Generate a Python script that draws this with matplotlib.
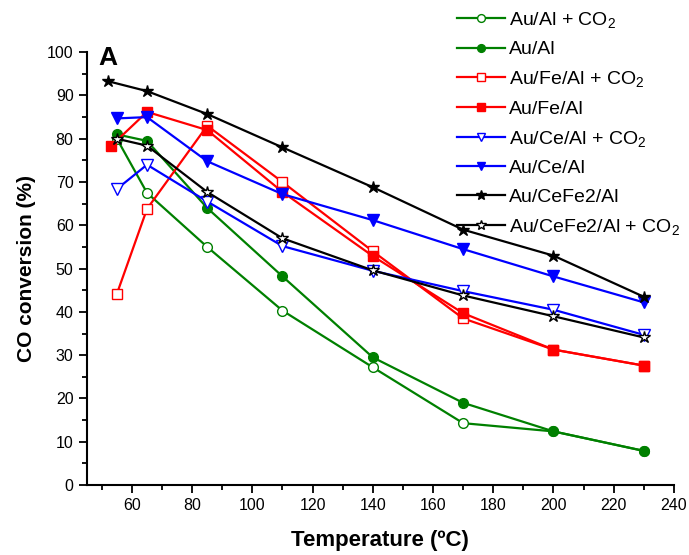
import matplotlib
matplotlib.use("Agg")
import matplotlib.pyplot as plt
from matplotlib.ticker import MultipleLocator

plt.rcParams['font.family'] = ['Liberation Sans', 'DejaVu Sans']
plt.rcParams['mathtext.fontset'] = 'custom'
plt.rcParams['mathtext.rm'] = 'Liberation Sans'
plt.rcParams['mathtext.it'] = 'Liberation Sans'

temps = [55, 65, 85, 110, 140, 170, 200, 230]
temps_fe = [53, 65, 85, 110, 140, 170, 200, 230]
temps_cefe = [52, 65, 85, 110, 140, 170, 200, 230]

au_al_co2 = [80.0, 67.5, 55.0, 40.3, 27.2, 14.3, 12.4, 7.9]
au_al = [81.0, 79.5, 64.0, 48.2, 29.5, 19.0, 12.4, 7.9]
au_fe_al_co2 = [44.2, 63.8, 83.0, 70.0, 54.0, 38.5, 31.3, 27.6]
au_fe_al = [78.3, 86.2, 82.0, 67.7, 52.9, 39.7, 31.3, 27.6]
au_ce_al_co2 = [68.4, 74.0, 65.5, 55.2, 49.5, 44.8, 40.5, 34.7]
au_ce_al = [84.7, 85.0, 74.8, 67.2, 61.2, 54.5, 48.2, 42.2]
au_cefe2_al = [93.3, 91.0, 85.7, 78.0, 68.8, 59.0, 53.0, 43.5]
au_cefe2_al_co2 = [80.0, 78.4, 67.7, 57.0, 49.6, 43.8, 39.0, 34.1]

labels = ['Au/Al + CO$_2$', 'Au/Al', 'Au/Fe/Al + CO$_2$', 'Au/Fe/Al',
          'Au/Ce/Al + CO$_2$', 'Au/Ce/Al', 'Au/CeFe2/Al', 'Au/CeFe2/Al + CO$_2$']

green = '#008000'
series = [
    (temps, au_al_co2, green, 'o', False, 7),
    (temps, au_al, green, 'o', True, 7),
    (temps, au_fe_al_co2, 'red', 's', False, 6.5),
    (temps_fe, au_fe_al, 'red', 's', True, 6.5),
    (temps, au_ce_al_co2, 'blue', 'v', False, 8),
    (temps, au_ce_al, 'blue', 'v', True, 8),
    (temps_cefe, au_cefe2_al, 'black', '*', True, 9),
    (temps, au_cefe2_al_co2, 'black', '*', False, 9),
]

fig = plt.figure(figsize=(6.89, 5.55), dpi=100)
ax = fig.add_axes([0.126, 0.126, 0.852, 0.78])

handles = []
for (x, y, c, m, filled, ms), lab in zip(series, labels):
    h, = ax.plot(x, y, color=c, lw=1.6, marker=m, ms=ms,
                 markerfacecolor=c if filled else 'white',
                 markeredgecolor=c, markeredgewidth=1.0, label=lab)
    handles.append(h)

ax.set_xlim(45, 240)
ax.set_ylim(0, 100)
ax.xaxis.set_major_locator(MultipleLocator(20))
ax.xaxis.set_minor_locator(MultipleLocator(10))
ax.yaxis.set_major_locator(MultipleLocator(10))
ax.yaxis.set_minor_locator(MultipleLocator(5))
ax.set_xticks(range(60, 241, 20))
ax.spines['top'].set_visible(False)
ax.spines['right'].set_visible(False)
for s in ['left', 'bottom']:
    ax.spines[s].set_linewidth(1.5)
ax.tick_params(which='major', direction='out', length=6, width=1.3, labelsize=11.5)
ax.tick_params(which='minor', direction='out', length=3.5, width=1.3)

ax.set_xlabel('Temperature (ºC)', fontsize=16, fontweight='bold', labelpad=12)
ax.set_ylabel('CO conversion (%)', fontsize=15, fontweight='bold', labelpad=8)
ax.text(0.019, 1.015, 'A', transform=ax.transAxes, fontsize=19, fontweight='bold',
        va='top', ha='left')

fig.legend(handles=handles, loc='upper left', bbox_to_anchor=(453/689, 1 - 6/555),
           frameon=False, fontsize=14, handlelength=2.45, handletextpad=0.25,
           labelspacing=0.56, borderpad=0.2, borderaxespad=0, markerscale=0.8)

fig.savefig('out.png', dpi=100)
